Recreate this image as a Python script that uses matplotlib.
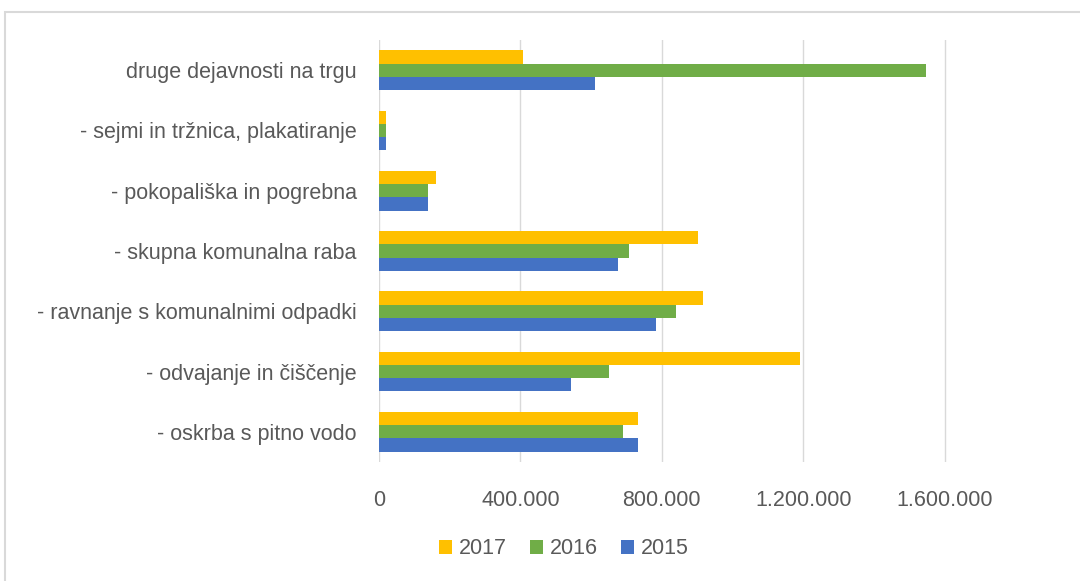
import numpy as np
import matplotlib.pyplot as plt
from matplotlib.patches import Rectangle
from matplotlib.ticker import FuncFormatter

# kategorije od spodaj navzgor
categories = ['- oskrba s pitno vodo', '- odvajanje in čiščenje',
              '- ravnanje s komunalnimi odpadki', '- skupna komunalna raba',
              '- pokopališka in pogrebna', '- sejmi in tržnica, plakatiranje',
              'druge dejavnosti na trgu']
v2015 = [733000, 544000, 783000, 675000, 138000, 20000, 612000]
v2016 = [689000, 652000, 840000, 707000, 138000, 20000, 1547000]
v2017 = [733000, 1190000, 917000, 902000, 161000, 20000, 406000]
years = ['2017', '2016', '2015']
colors = ['#FFC000', '#70AD47', '#4472C4']

plt.rcParams['font.family'] = ['Liberation Sans', 'DejaVu Sans']
fig = plt.figure(figsize=(10.8, 5.81), dpi=100)
fig.patches.append(Rectangle((5/1080, -0.1), 2, (581-12)/581 + 0.1,
                             transform=fig.transFigure, fill=False,
                             edgecolor='#D9D9D9', linewidth=1.5))
ax = fig.add_axes([379/1080, 1 - 462/581, 707/1080, 422/581])

y = np.arange(len(categories))
h = 0.22
ax.barh(y - h, v2015, h, color=colors[2], label='2015', zorder=3)
ax.barh(y, v2016, h, color=colors[1], label='2016', zorder=3)
ax.barh(y + h, v2017, h, color=colors[0], label='2017', zorder=3)

ax.set_xlim(0, 2000000)
ax.set_ylim(-0.5, len(categories) - 0.5)
ax.set_xticks([0, 400000, 800000, 1200000, 1600000])
ax.xaxis.set_major_formatter(FuncFormatter(lambda v, p: f'{int(v):,}'.replace(',', '.')))
ax.set_yticks(y)
ax.set_yticklabels(categories)
ax.tick_params(axis='both', length=0, labelsize=15.5, colors='#595959')
ax.tick_params(axis='x', pad=20)
ax.tick_params(axis='y', pad=16)
ax.grid(axis='x', color='#D9D9D9', linewidth=1, zorder=0)
for s in ax.spines.values():
    s.set_visible(False)

handles, labels = ax.get_legend_handles_labels()
leg = fig.legend(handles[::-1], labels[::-1], loc='center', ncol=3,
                 bbox_to_anchor=(564/1080, 1 - 549/581), frameon=False,
                 fontsize=15.5, handlelength=0.6, handleheight=0.6,
                 handletextpad=0.3, columnspacing=1.1)
for t in leg.get_texts():
    t.set_color('#595959')

fig.savefig('out.png', dpi=100)
